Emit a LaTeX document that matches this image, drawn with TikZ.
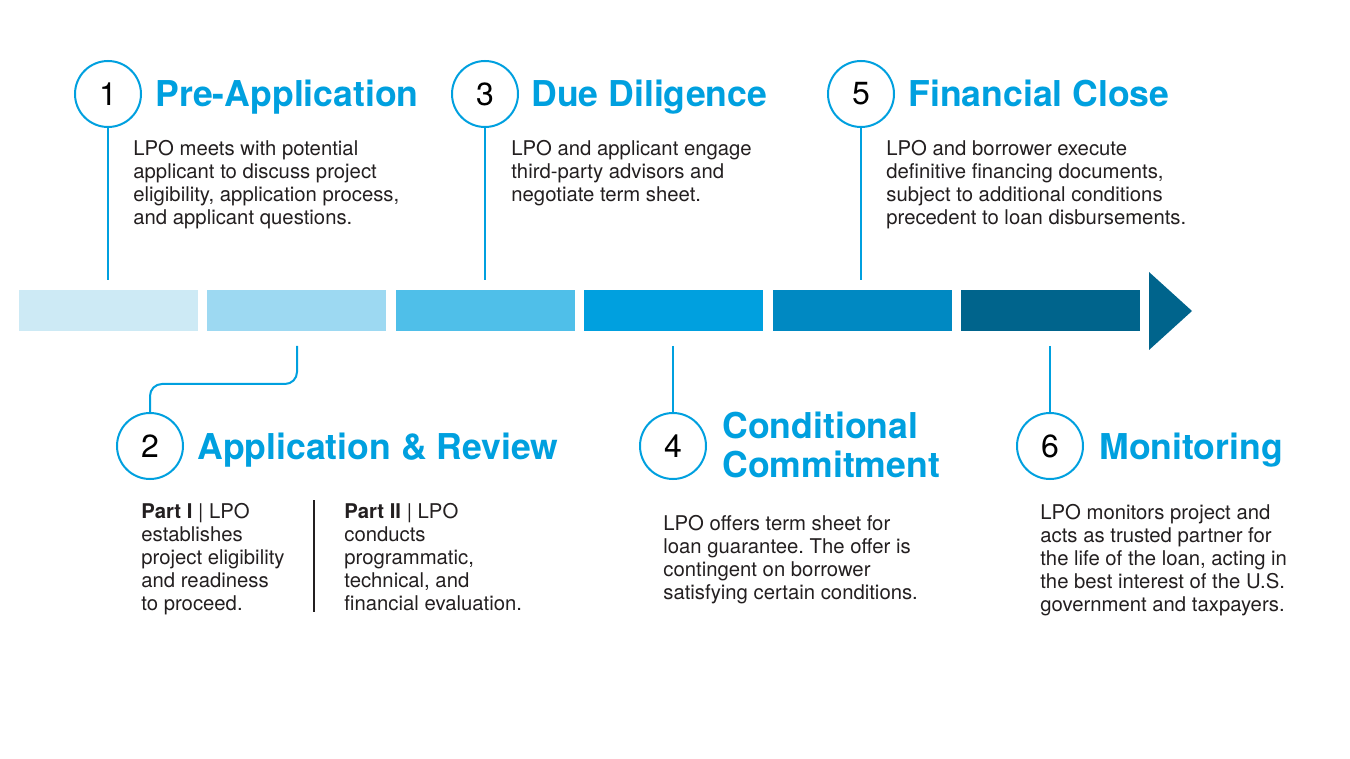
\documentclass[tikz,border=0pt]{standalone}
\usepackage{fontspec}
\setmainfont{TeX Gyre Heros}
\usetikzlibrary{calc}
\definecolor{lpoblue}{HTML}{00A0DF}
\definecolor{segA}{HTML}{CDEAF5}
\definecolor{segB}{HTML}{9DD9F2}
\definecolor{segC}{HTML}{4FBFE9}
\definecolor{segD}{HTML}{00A0DF}
\definecolor{segE}{HTML}{0089C2}
\definecolor{segF}{HTML}{00648C}
\definecolor{bodytext}{HTML}{231F20}
\frenchspacing
\begin{document}
\begin{tikzpicture}[x=0.5pt,y=-0.5pt,
 seg/.style={inner sep=0, outer sep=0, minimum width=89.5pt, minimum height=20.5pt, anchor=north west},
 num/.style={circle, draw=lpoblue, line width=1pt, minimum size=33pt, inner sep=0, font=\fontsize{16}{16}\selectfont, text=black},
 title/.style={anchor=base west, inner sep=0, text=lpoblue, font=\fontsize{17.8}{19.5}\selectfont\bfseries},
 title2/.style={anchor=north west, inner sep=0, align=left, text=lpoblue, font=\fontsize{17.8}{19.5}\selectfont\bfseries},
 body/.style={anchor=north west, inner sep=0, align=left, text=bodytext, font=\fontsize{10.15}{11.5}\selectfont},
 conn/.style={draw=lpoblue, line width=1pt}]
\useasboundingbox (0,0) rectangle (1350,759);
\fill[white] (0,0) rectangle (1350,759);

% timeline bar
\node[seg, fill=segA] (b1) at (19,290) {};
\node[seg, fill=segB] (b2) at (207,290) {};
\node[seg, fill=segC] (b3) at (396,290) {};
\node[seg, fill=segD] (b4) at (584,290) {};
\node[seg, fill=segE] (b5) at (773,290) {};
\node[seg, fill=segF] (b6) at (961,290) {};
\fill[segF] (1149,272) -- (1192,311) -- (1149,350) -- cycle;

% circles
\node[num] (c1) at (108,94) {1};
\node[num] (c3) at (485,94) {3};
\node[num] (c5) at (861,94) {5};
\node[num] (c2) at (150,446) {2};
\node[num] (c4) at (673,446) {4};
\node[num] (c6) at (1050,446) {6};

% connectors
\coordinate (t1) at (108,280);
\coordinate (t3) at (485,280);
\coordinate (t5) at (861,280);
\coordinate (t2) at (297,346);
\coordinate (k2) at (150,384);
\coordinate (t4) at (673,346);
\coordinate (t6) at (1050,346);
\draw[conn] (c1.south) -- (t1);
\draw[conn] (c3.south) -- (t3);
\draw[conn] (c5.south) -- (t5);
\draw[conn, rounded corners=6pt] (t2) |- (k2) -- (c2.north);
\draw[conn] (t4) -- (c4.north);
\draw[conn] (t6) -- (c6.north);

% titles
\node[title] (h1) at (155,107) {Pre-Application};
\node[title] (h3) at (531,107) {Due Diligence};
\node[title] (h5) at (908,107) {Financial Close};
\node[title] (h2) at (197,459) {Application \& Review};
\node[title2] (h4) at (722,412) {Conditional\\Commitment};
\node[title] (h6) at (1099,459) {Monitoring};

% bodies
\node[body] (d1) at (133,140) {LPO meets with potential\\applicant to discuss project\\eligibility, application process,\\and applicant questions.};
\node[body] (d3) at (511,140) {LPO and applicant engage\\third-party advisors and\\negotiate term sheet.};
\node[body] (d5) at (886,140) {LPO and borrower execute\\definitive financing documents,\\subject to additional conditions\\precedent to loan disbursements.};
\node[body] (d2a) at (141,503) {\textbf{Part I} | LPO\\establishes\\project eligibility\\and readiness\\to proceed.};
\node[body] (d2b) at (344,503) {\textbf{Part II} | LPO\\conducts\\programmatic,\\technical, and\\financial evaluation.};
\draw[bodytext, line width=0.6pt] (314,500) -- (314,612);
\node[body] (d4) at (663,515) {LPO offers term sheet for\\loan guarantee. The offer is\\contingent on borrower\\satisfying certain conditions.};
\node[body] (d6) at (1040,504) {LPO monitors project and\\acts as trusted partner for\\the life of the loan, acting in\\the best interest of the U.S.\\government and taxpayers.};
\end{tikzpicture}
\end{document}
